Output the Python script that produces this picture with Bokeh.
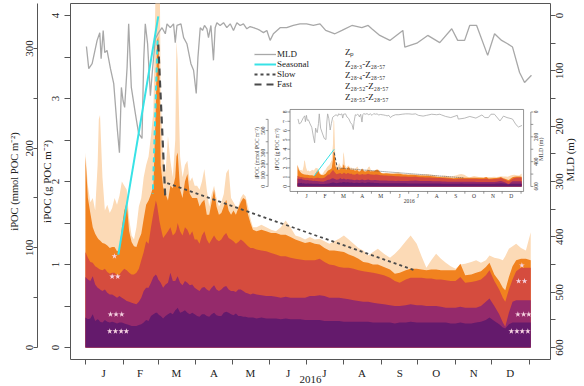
import math
from bokeh.plotting import figure
from bokeh.models import Range1d, LinearAxis, FixedTicker, Legend, LegendItem
from bokeh.embed import file_html
from bokeh.resources import INLINE

FONT = "Liberation Serif"

# ---------------- data (x = day of year 2016, 0 = 1 Jan) ----------------
area_days = [0, 2, 4, 6, 8, 10, 11, 12, 14, 16, 18, 20, 22, 24, 26, 28, 30, 32, 34, 36,
             38, 40, 42, 44, 46, 48, 50, 52, 54, 56, 58, 59, 60, 61, 62, 64, 66, 68, 70, 72,
             74, 75, 76, 78, 80, 82, 84, 86, 88, 90, 92, 94, 96, 98, 100, 102, 104, 106, 108, 110,
             112, 114, 116, 118, 120, 122, 124, 126, 128, 130, 132, 134, 136, 138, 141, 145, 149, 153, 157, 161,
             165, 169, 173, 177, 181, 185, 189, 193, 197, 201, 205, 209, 213, 217, 221, 225, 229, 233, 237, 241,
             246, 251, 255, 259, 264, 268, 273, 277, 281, 285, 289, 293, 297, 301, 305, 309, 313, 318, 322, 326,
             330, 333, 337, 341, 344, 346, 349, 352, 355, 359, 363, 367]
zp = [2.35, 1.95, 1.75, 1.80, 1.65, 2.20, 2.75, 2.80, 2.05, 1.65, 1.72, 1.62, 1.68, 1.80, 1.72, 1.83, 2.00, 1.95, 1.90, 1.55,
      1.35, 1.30, 1.45, 1.70, 1.80, 2.05, 2.20, 2.30, 2.55, 2.85, 4.50, 7.20, 7.00, 5.00, 3.00, 2.30, 2.10, 2.55, 2.25, 2.05,
      2.50, 3.70, 3.45, 2.30, 2.05, 2.20, 2.25, 2.00, 2.05, 1.95, 1.95, 1.90, 2.00, 2.15, 1.90, 1.70, 1.85, 1.95, 1.80, 1.70,
      1.75, 1.85, 2.10, 2.15, 1.80, 1.75, 1.70, 1.70, 1.80, 1.85, 1.82, 1.70, 1.55, 1.45, 1.45, 1.48, 1.45, 1.42, 1.40, 1.45,
      1.53, 1.45, 1.35, 1.33, 1.30, 1.33, 1.30, 1.31, 1.28, 1.25, 1.28, 1.31, 1.35, 1.30, 1.25, 1.20, 1.17, 1.11, 1.15, 1.19,
      1.13, 1.08, 1.13, 1.19, 1.28, 1.35, 1.25, 1.10, 0.96, 1.05, 1.13, 1.07, 1.02, 0.98, 0.95, 1.00, 1.01, 1.03, 1.05, 1.02,
      1.05, 1.11, 1.08, 1.07, 1.05, 1.10, 1.19, 1.22, 1.25, 1.20, 1.17, 1.39]
z28_3 = [2.30, 1.80, 1.62, 1.45, 1.37, 1.32, 1.30, 1.29, 1.26, 1.25, 1.23, 1.20, 1.21, 1.21, 1.16, 1.18, 1.45, 1.65, 1.75, 1.40,
         1.27, 1.22, 1.21, 1.30, 1.37, 1.55, 1.72, 1.77, 1.85, 1.95, 2.90, 3.70, 3.75, 3.30, 2.20, 1.93, 1.85, 1.77, 1.95, 1.92,
         2.05, 2.30, 2.35, 1.90, 1.80, 2.00, 2.09, 1.85, 1.80, 1.80, 1.80, 1.70, 1.75, 1.78, 1.60, 1.60, 1.75, 1.90, 1.70, 1.60,
         1.62, 1.70, 1.78, 1.65, 1.60, 1.65, 1.60, 1.68, 1.75, 1.80, 1.78, 1.60, 1.50, 1.42, 1.40, 1.42, 1.40, 1.38, 1.38, 1.36,
         1.36, 1.33, 1.30, 1.28, 1.26, 1.27, 1.25, 1.24, 1.20, 1.17, 1.17, 1.16, 1.15, 1.12, 1.10, 1.07, 1.03, 1.02, 1.00, 1.00,
         0.97, 0.94, 0.89, 0.90, 0.93, 0.95, 0.95, 0.94, 0.93, 0.94, 0.94, 0.93, 0.93, 0.93, 0.93, 1.01, 0.87, 0.88, 0.90, 0.92,
         0.97, 1.02, 0.88, 0.80, 0.72, 0.69, 0.85, 0.98, 1.05, 1.07, 1.07, 1.05]
z28_4 = [1.15, 1.08, 1.03, 1.02, 0.98, 0.96, 0.95, 0.94, 0.93, 0.95, 0.91, 0.89, 0.90, 0.90, 0.87, 0.88, 0.92, 0.95, 0.93, 0.90,
         0.88, 0.88, 0.90, 0.95, 1.05, 1.15, 1.28, 1.25, 1.45, 1.62, 1.77, 1.72, 1.62, 1.52, 1.45, 1.32, 1.36, 1.40, 1.45, 1.35,
         1.38, 1.42, 1.50, 1.40, 1.35, 1.45, 1.42, 1.35, 1.40, 1.30, 1.30, 1.25, 1.35, 1.40, 1.30, 1.25, 1.30, 1.35, 1.30, 1.28,
         1.30, 1.35, 1.38, 1.32, 1.30, 1.28, 1.25, 1.27, 1.30, 1.28, 1.25, 1.22, 1.20, 1.20, 1.18, 1.17, 1.16, 1.14, 1.12, 1.10,
         1.10, 1.08, 1.07, 1.06, 1.05, 1.05, 1.05, 1.07, 1.03, 1.00, 0.99, 0.97, 0.96, 0.96, 0.95, 0.93, 0.92, 0.91, 0.90, 0.89,
         0.87, 0.84, 0.80, 0.78, 0.82, 0.84, 0.84, 0.84, 0.83, 0.83, 0.82, 0.82, 0.81, 0.80, 0.80, 0.85, 0.78, 0.79, 0.80, 0.82,
         0.87, 0.93, 0.80, 0.70, 0.60, 0.55, 0.70, 0.82, 0.92, 0.96, 0.96, 0.96]
z28_52 = [0.85, 0.82, 0.80, 0.86, 0.76, 0.72, 0.71, 0.70, 0.68, 0.70, 0.66, 0.64, 0.64, 0.62, 0.60, 0.62, 0.60, 0.58, 0.56, 0.55,
          0.54, 0.53, 0.52, 0.55, 0.60, 0.68, 0.72, 0.72, 0.78, 0.85, 0.88, 0.86, 0.82, 0.80, 0.78, 0.72, 0.76, 0.78, 0.90, 0.80,
          0.80, 0.83, 0.86, 0.78, 0.75, 0.80, 0.78, 0.75, 0.76, 0.72, 0.70, 0.68, 0.72, 0.73, 0.70, 0.68, 0.72, 0.75, 0.70, 0.68,
          0.70, 0.73, 0.74, 0.70, 0.68, 0.68, 0.67, 0.70, 0.70, 0.68, 0.66, 0.65, 0.64, 0.65, 0.64, 0.63, 0.62, 0.62, 0.61, 0.60,
          0.61, 0.60, 0.60, 0.60, 0.60, 0.62, 0.62, 0.63, 0.62, 0.60, 0.60, 0.60, 0.59, 0.58, 0.57, 0.56, 0.55, 0.55, 0.54, 0.53,
          0.52, 0.51, 0.50, 0.50, 0.51, 0.52, 0.51, 0.51, 0.50, 0.50, 0.50, 0.49, 0.48, 0.48, 0.48, 0.49, 0.48, 0.48, 0.48, 0.50,
          0.55, 0.59, 0.50, 0.40, 0.30, 0.25, 0.42, 0.55, 0.57, 0.57, 0.57, 0.57]
z28_55 = [0.36, 0.34, 0.35, 0.40, 0.32, 0.34, 0.33, 0.31, 0.30, 0.33, 0.31, 0.30, 0.31, 0.30, 0.29, 0.30, 0.30, 0.29, 0.28, 0.27,
          0.26, 0.26, 0.26, 0.27, 0.28, 0.30, 0.33, 0.32, 0.38, 0.40, 0.42, 0.42, 0.40, 0.39, 0.38, 0.35, 0.38, 0.40, 0.42, 0.40,
          0.45, 0.46, 0.48, 0.42, 0.43, 0.45, 0.42, 0.40, 0.42, 0.40, 0.38, 0.37, 0.40, 0.40, 0.38, 0.37, 0.40, 0.42, 0.39, 0.38,
          0.38, 0.42, 0.43, 0.42, 0.40, 0.39, 0.41, 0.38, 0.38, 0.37, 0.37, 0.36, 0.36, 0.36, 0.35, 0.36, 0.35, 0.35, 0.35, 0.34,
          0.35, 0.34, 0.34, 0.34, 0.33, 0.33, 0.33, 0.33, 0.32, 0.32, 0.32, 0.32, 0.31, 0.31, 0.31, 0.31, 0.31, 0.31, 0.30, 0.30,
          0.30, 0.30, 0.29, 0.30, 0.30, 0.31, 0.30, 0.30, 0.30, 0.30, 0.30, 0.30, 0.30, 0.29, 0.29, 0.30, 0.29, 0.29, 0.30, 0.31,
          0.33, 0.36, 0.32, 0.28, 0.24, 0.23, 0.28, 0.30, 0.30, 0.30, 0.30, 0.30]

mld_days = [0.8, 2.7, 5.5, 9.6, 11.8, 12.9, 14.6, 15.9, 17.8, 20.6, 23.3, 26.1, 28.0, 29.6, 31.0, 32.3, 34.3, 35.6, 37.8, 41.1,
            43.8, 46.6, 48.0, 49.3, 51.2, 53.5, 55.4, 57.6, 60.3, 63.1, 65.8, 67.2, 69.9, 72.6, 74.0, 75.4, 78.7, 80.9, 83.6, 86.9,
            89.1, 91.3, 92.7, 94.6, 96.5, 98.1, 100.1, 101.4, 103.4, 105.5, 106.9, 108.3, 111.0, 113.8, 116.5, 119.3, 122.0, 124.8, 127.5, 130.2,
            133.0, 135.7, 138.4, 141.2, 143.9, 146.7, 149.5, 152.2, 154.9, 160.4, 165.9, 171.3, 176.8, 182.3, 187.8, 193.3, 198.0, 205.6, 211.4, 219.6,
            227.8, 233.0, 236.0, 242.6, 250.9, 261.6, 263.2, 273.1, 282.1, 292.0, 301.9, 306.8, 312.5, 316.7, 322.4, 331.5, 337.2, 343.0, 347.9, 352.0,
            357.8, 361.9, 367.6]
mld = [56, 96, 87, 45, 31, 78, 27, 67, 63, 96, 123, 202, 248, 130, 154, 166, 94, 15, 130, 177,
       213, 222, 81, 15, 51, 145, 94, 42, 31, 22, 33, 15, 22, 15, 49, 18, 15, 40, 51, 87,
       99, 141, 76, 22, 27, 18, 24, 40, 18, 81, 22, 13, 18, 13, 22, 15, 27, 13, 18, 15,
       24, 20, 22, 24, 27, 31, 27, 45, 33, 22, 22, 18, 15, 15, 18, 15, 27, 33, 27, 18,
       22, 18, 24, 36, 45, 27, 57, 50, 36, 49, 24, 45, 45, 18, 18, 72, 33, 45, 51, 57,
       103, 121, 108]

seasonal_days = [27.1, 60.0]
seasonal_vals = [1.12, 3.99]
seasonal_drop_days = [59.4, 55.5]
seasonal_drop_vals = [3.70, 1.85]
fast_days = [60.0, 65.8]
fast_vals = [3.65, 1.80]
slow_days = [67.4, 271.4]
slow_vals = [1.98, 0.93]

star_days = [23.9, 22.0, 26.6, 20.6, 25.2, 29.9, 20.0, 24.7, 29.4, 33.7,
             359.7, 357.0, 361.9, 356.4, 361.1, 365.4, 351.0, 355.6, 360.0, 364.6]
star_vals = [1.10, 0.855, 0.855, 0.40, 0.40, 0.40, 0.196, 0.196, 0.196, 0.196,
             0.99, 0.80, 0.80, 0.40, 0.40, 0.40, 0.196, 0.196, 0.196, 0.196]

month_bounds = [0, 31, 60, 91, 121, 152, 182, 213, 244, 274, 305, 335, 366]
month_mid = [15, 45, 75, 106, 136, 167, 197, 228, 259, 289, 320, 350]
month_labels = ["J", "F", "M", "A", "M", "J", "J", "A", "S", "O", "N", "D"]

ipoc_ticks = [0, 1, 2, 3, 4]
ipoc_all_ticks = [0, 0.5, 1, 1.5, 2, 2.5, 3, 3.5, 4]
mmol_ticks = [0, 100, 200, 300]
mmol_all_ticks = [0, 50, 100, 150, 200, 250, 300]
mld_ticks = [0, 100, 200, 300, 400, 500, 600]
mld_all_ticks = [0, 50, 100, 150, 200, 250, 300, 350, 400, 450, 500, 550, 600]

inset_ipoc_ticks = [0, 1, 2, 3, 4, 5, 6, 7, 8]
inset_mmol_ticks = [0, 100, 200, 300, 400, 500, 600]
inset_mmol_labels = [0, 100, 200, 300, 500]
inset_mld_ticks = [0, 100, 200, 300, 400, 500, 600]
inset_mld_labels = [0, 200, 400, 600]

G_TO_MMOL = 1000.0 / 12.011

# ---------------- colours ----------------
C_ZP = "#fcdab6"
C_283 = "#f1821f"
C_284 = "#d54c3e"
C_2852 = "#952a6b"
C_2855 = "#641a6c"
C_MLD = "#a8a8a8"
C_SEAS = "#38e2e6"
C_DASH = "#4a4a4a"
AX = "#555555"
TXTC = "#222222"

Y_LO, Y_HI = -0.1446, 4.145
MLD_LO, MLD_HI = -21.7, 621.6
FRAME_H = 356.0
DIGIT_PX = 5.5   # width of one digit at 11px in Liberation Serif

p = figure(width=584, height=386, output_backend="svg", toolbar_location=None,
           x_range=Range1d(-12.34, 383.29), y_range=Range1d(Y_LO, Y_HI),
           x_axis_type=None, y_axis_type=None,
           min_border_left=70, min_border_right=33, min_border_top=3, min_border_bottom=27)
p.extra_y_ranges = {
    "mld": Range1d(MLD_HI, MLD_LO),
    "mmol": Range1d(Y_LO * G_TO_MMOL, Y_HI * G_TO_MMOL),
    "iy": Range1d(-18.58, 19.65),
    "imld": Range1d(1993.3, -873.8),
}
p.extra_x_ranges = {"ix": Range1d(-371.7, 414.2)}
p.outline_line_color = AX
p.outline_line_width = 1
p.background_fill_color = "white"
p.border_fill_color = "white"


def style_axis(ax, size="11px"):
    ax.axis_label_text_font = FONT
    ax.axis_label_text_font_style = "normal"
    ax.axis_label_text_font_size = size
    ax.axis_label_text_color = TXTC
    ax.major_label_text_font = FONT
    ax.major_label_text_font_size = size
    ax.major_label_text_color = TXTC
    ax.axis_line_color = AX
    ax.major_tick_line_color = AX
    ax.minor_tick_line_color = AX
    ax.major_tick_out = 5
    ax.major_tick_in = 0
    ax.minor_tick_out = 5
    ax.minor_tick_in = 0
    ax.major_label_standoff = 3
    ax.axis_label_standoff = 3


def centred_label_positions(ticks, units_per_px, sign):
    """Rotated labels are anchored at one end; move each anchor by half the
    label length so that the label is centred on its tick mark."""
    return [round(t + sign * len(str(t)) * DIGIT_PX / 2 * units_per_px, 3) for t in ticks]


def rotated_axis(range_name, ticks, all_ticks, units_per_px, sign, bounds, label, tick_len):
    pos = centred_label_positions(ticks, units_per_px, sign)
    kw = {} if range_name is None else {"y_range_name": range_name}
    ax = LinearAxis(ticker=FixedTicker(ticks=pos, minor_ticks=all_ticks), bounds=bounds,
                    axis_label=label, **kw)
    style_axis(ax)
    ax.major_label_overrides = {q: str(t) for q, t in zip(pos, ticks)}
    ax.major_label_orientation = math.pi / 2
    ax.major_tick_line_color = None
    ax.minor_tick_out = tick_len
    return ax


# ---- left: inner iPOC axis, a spacer, then the outer mmol axis
ax_in = rotated_axis(None, ipoc_ticks, ipoc_all_ticks, (Y_HI - Y_LO) / FRAME_H, +1,
                     (0, Y_HI), "iPOC (g POC m⁻²)", 6)
ax_in.axis_line_color = None
ax_in.major_label_standoff = 9
ax_in.axis_label_standoff = -7
p.add_layout(ax_in, "left")

spacer = LinearAxis(ticker=FixedTicker(ticks=[]), axis_line_color=None, major_tick_line_color=None,
                    minor_tick_line_color=None, major_tick_out=5, major_label_text_alpha=0)
p.add_layout(spacer, "left")

ax_out = rotated_axis("mmol", mmol_ticks, mmol_all_ticks, (Y_HI - Y_LO) * G_TO_MMOL / FRAME_H, +1,
                      (0, 345), "iPOC (mmol POC m⁻²)", 4)
ax_out.major_label_standoff = 3
ax_out.axis_label_standoff = 0
ax_out.axis_label_text_font_size = "10.5px"
p.add_layout(ax_out, "left")

# ---- right: MLD axis (reversed range, so the anchor moves to larger depths)
ax_r = rotated_axis("mld", mld_ticks, mld_all_ticks, (MLD_HI - MLD_LO) / FRAME_H, +1,
                    (0, MLD_HI), "MLD (m)", 5)
ax_r.axis_line_color = None
ax_r.major_label_standoff = 4
ax_r.axis_label_standoff = 0
if "axis_label_orientation" in ax_r.properties():
    ax_r.axis_label_orientation = math.pi / 2
p.add_layout(ax_r, "right")

# ---- bottom: month axis
ax_b = LinearAxis(ticker=FixedTicker(ticks=month_mid, minor_ticks=month_bounds), bounds=(0, 366),
                  axis_label="2016")
style_axis(ax_b)
ax_b.major_label_overrides = {m: lab for m, lab in zip(month_mid, month_labels)}
ax_b.major_tick_line_color = None
ax_b.axis_line_color = None
ax_b.major_label_standoff = 2
ax_b.axis_label_standoff = -6
p.add_layout(ax_b, "below")

# ---------------- main areas ----------------
for vals, col in [(zp, C_ZP), (z28_3, C_283), (z28_4, C_284), (z28_52, C_2852), (z28_55, C_2855)]:
    p.varea(x=area_days, y1=[0] * len(vals), y2=vals, fill_color=col)

r_mld = p.line(mld_days, mld, y_range_name="mld", line_color=C_MLD, line_width=1.3)
r_seas = p.line(seasonal_days, seasonal_vals, line_color=C_SEAS, line_width=2)
p.line(seasonal_drop_days, seasonal_drop_vals, line_color=C_SEAS, line_width=2, line_dash="5 4")
r_fast = p.line(fast_days, fast_vals, line_color=C_DASH, line_width=2.2, line_dash="7 5")
r_slow = p.line(slow_days, slow_vals, line_color=C_DASH, line_width=1.8, line_dash="3 3")

p.scatter(star_days, star_vals, marker="star", size=6, fill_color="#f6d3e2", line_color=None)

# ---------------- legends ----------------
leg_zp = p.line([], [], line_color=C_ZP, line_width=3)
leg_283 = p.line([], [], line_color=C_283, line_width=3)
leg_284 = p.line([], [], line_color=C_284, line_width=3)
leg_2852 = p.line([], [], line_color=C_2852, line_width=3)
leg_2855 = p.line([], [], line_color=C_2855, line_width=3)


def style_legend(lg):
    lg.label_text_font = FONT
    lg.label_text_font_size = "9px"
    lg.label_text_color = TXTC
    lg.padding = 0
    lg.margin = 0
    lg.spacing = 0
    lg.label_height = 10
    lg.glyph_height = 10
    lg.background_fill_alpha = 0
    lg.border_line_color = None


leg1 = Legend(items=[LegendItem(label="MLD", renderers=[r_mld]),
                     LegendItem(label="Seasonal", renderers=[r_seas]),
                     LegendItem(label="Slow", renderers=[r_slow]),
                     LegendItem(label="Fast", renderers=[r_fast])],
              location=(184, 270))
style_legend(leg1)
leg1.glyph_width = 22
leg1.label_standoff = 1
p.add_layout(leg1)

leg2 = Legend(items=[LegendItem(label="Zₚ", renderers=[leg_zp]),
                     LegendItem(label="Z₂₈.₃-Z₂₈.₅₇", renderers=[leg_283]),
                     LegendItem(label="Z₂₈.₄-Z₂₈.₅₇", renderers=[leg_284]),
                     LegendItem(label="Z₂₈.₅₂-Z₂₈.₅₇", renderers=[leg_2852]),
                     LegendItem(label="Z₂₈.₅₅-Z₂₈.₅₇", renderers=[leg_2855])],
              location=(252, 257))
style_legend(leg2)
leg2.glyph_width = 18
leg2.label_standoff = 5
leg2.label_height = 11
leg2.glyph_height = 11
p.add_layout(leg2)

# ---------------- inset ----------------
IX = dict(x_range_name="ix", y_range_name="iy")
p.quad(left=[-12.25], right=[370.1], bottom=[-0.537], top=[8.27], fill_color="white",
       line_color="#777777", line_width=0.8, **IX)
for vals, col in [(zp, C_ZP), (z28_3, C_283), (z28_4, C_284), (z28_52, C_2852), (z28_55, C_2855)]:
    p.varea(x=area_days, y1=[0] * len(vals), y2=vals, fill_color=col, **IX)
p.line(mld_days, mld, x_range_name="ix", y_range_name="imld", line_color=C_MLD, line_width=0.8)
p.line(seasonal_days, seasonal_vals, line_color=C_SEAS, line_width=1, **IX)
p.line(fast_days, fast_vals, line_color=C_DASH, line_width=1, line_dash="3 2", **IX)
p.line(slow_days, slow_vals, line_color=C_DASH, line_width=0.8, line_dash="1 1", **IX)

TXT = dict(text_font=FONT, text_color="#333333")
# inset left iPOC axis
n = len(inset_ipoc_ticks)
p.segment(x0=[-12.25] * n, x1=[-16.5] * n, y0=inset_ipoc_ticks, y1=inset_ipoc_ticks, line_color=AX, line_width=0.6, **IX)
p.text(x=[-21.0] * n, y=inset_ipoc_ticks, text=[str(t) for t in inset_ipoc_ticks], angle=math.pi / 2,
       text_font_size="5.5px", text_align="center", text_baseline="middle", **TXT, **IX)
p.text(x=[-33.0], y=[4.0], text=["iPOC (g POC m⁻²)"], angle=math.pi / 2, text_font_size="5.5px",
       text_align="center", text_baseline="middle", **TXT, **IX)
# inset outer mmol axis
mm_y = [t / G_TO_MMOL for t in inset_mmol_ticks]
p.segment(x0=[-48.2], x1=[-48.2], y0=[0], y1=[max(mm_y)], line_color=AX, line_width=0.6, **IX)
p.segment(x0=[-48.2] * len(mm_y), x1=[-52.0] * len(mm_y), y0=mm_y, y1=mm_y, line_color=AX, line_width=0.6, **IX)
p.text(x=[-57.0] * len(inset_mmol_labels), y=[t / G_TO_MMOL for t in inset_mmol_labels],
       text=[str(t) for t in inset_mmol_labels], angle=math.pi / 2, text_font_size="5.5px",
       text_align="center", text_baseline="middle", **TXT, **IX)
p.text(x=[-67.0], y=[3.6], text=["iPOC (mmol POC m⁻²)"], angle=math.pi / 2, text_font_size="5.5px",
       text_align="center", text_baseline="middle", **TXT, **IX)
# inset right MLD axis
IM = dict(x_range_name="ix", y_range_name="imld")
p.segment(x0=[382.0], x1=[382.0], y0=[0], y1=[600], line_color=AX, line_width=0.6, **IM)
p.segment(x0=[382.0] * len(inset_mld_ticks), x1=[386.0] * len(inset_mld_ticks), y0=inset_mld_ticks,
          y1=inset_mld_ticks, line_color=AX, line_width=0.6, **IM)
p.text(x=[391.0] * len(inset_mld_labels), y=inset_mld_labels, text=[str(t) for t in inset_mld_labels],
       angle=math.pi / 2, text_font_size="5.5px", text_align="center", text_baseline="middle", **TXT, **IM)
p.text(x=[399.0], y=[300], text=["MLD (m)"], angle=math.pi / 2, text_font_size="6px",
       text_align="center", text_baseline="middle", **TXT, **IM)
# inset bottom axis
nb = len(month_bounds)
p.segment(x0=month_bounds, x1=month_bounds, y0=[-0.537] * nb, y1=[-0.78] * nb, line_color=AX, line_width=0.6, **IX)
p.text(x=month_mid, y=[-1.05] * len(month_mid), text=month_labels, text_font_size="5.5px",
       text_align="center", text_baseline="middle", **TXT, **IX)
p.text(x=[183], y=[-1.6], text=["2016"], text_font_size="5.5px", text_align="center",
       text_baseline="middle", **TXT, **IX)

open("out.html", "w").write(file_html(p, INLINE))
